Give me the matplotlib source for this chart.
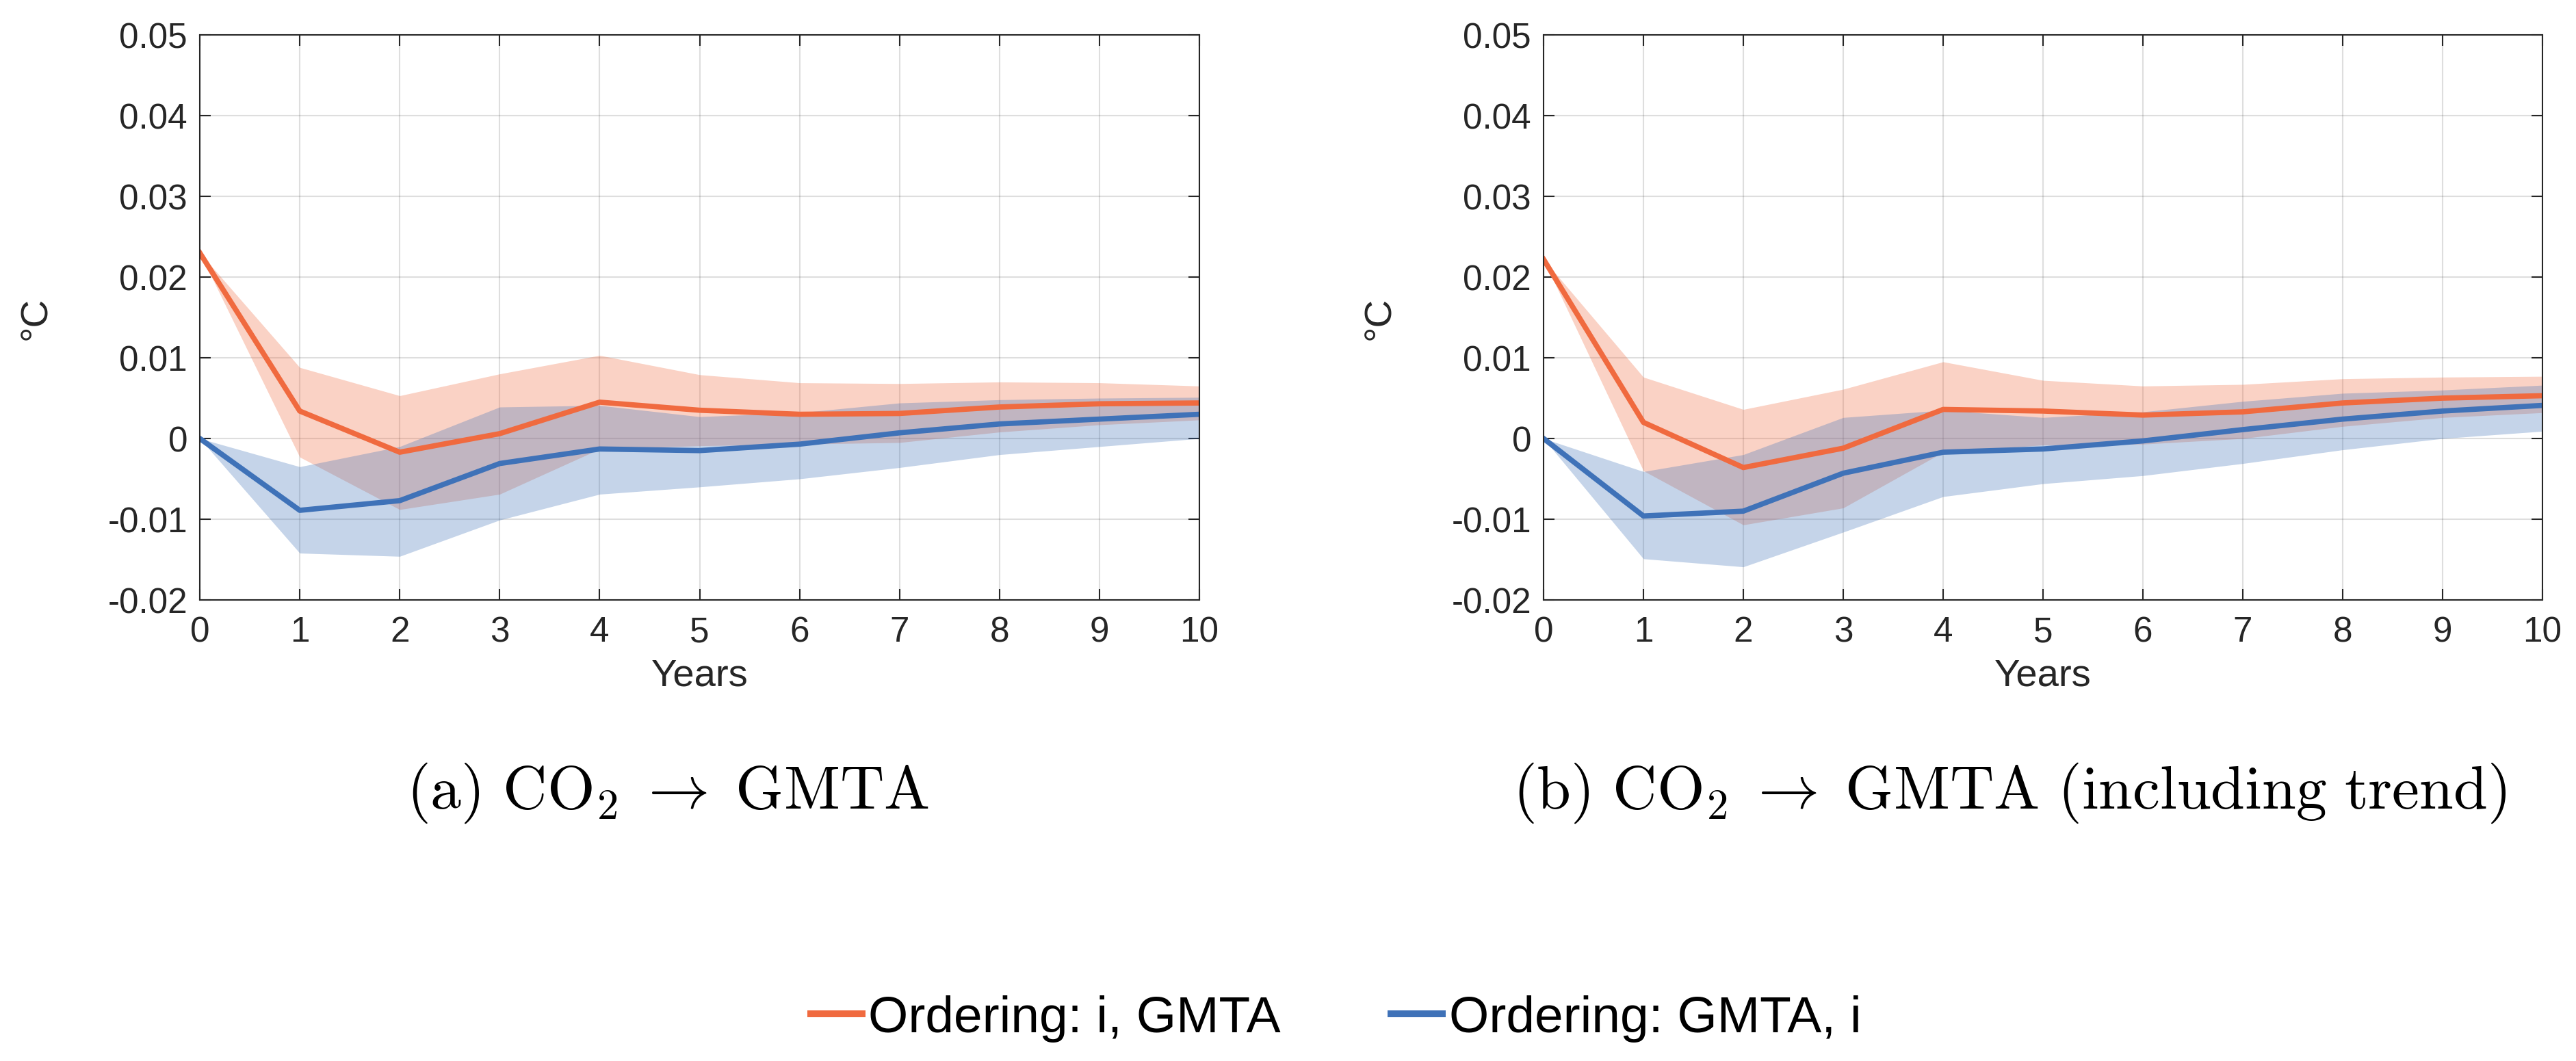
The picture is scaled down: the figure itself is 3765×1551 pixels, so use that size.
import matplotlib
matplotlib.use('Agg')
import matplotlib.pyplot as plt
from matplotlib.lines import Line2D

plt.rcParams['font.family'] = ['Liberation Sans', 'DejaVu Sans']
plt.rcParams['mathtext.fontset'] = 'cm'

#################################################################
## data (impulse responses, deg C)
years = [0, 1, 2, 3, 4, 5, 6, 7, 8, 9, 10]

# (a) CO2 -> GMTA
a_igmta_mid = [0.0230, 0.0034, -0.0017, 0.0006, 0.0045, 0.0035, 0.0030, 0.0031, 0.0039, 0.0043, 0.0044]
a_igmta_hi  = [0.0230, 0.0088, 0.0053, 0.0080, 0.0103, 0.0079, 0.0069, 0.0068, 0.0070, 0.0069, 0.0065]
a_igmta_lo  = [0.0230, -0.0023, -0.0088, -0.0069, -0.0013, -0.0009, -0.0007, -0.0005, 0.0008, 0.0017, 0.0023]
a_gmtai_mid = [0.0, -0.0089, -0.0077, -0.0031, -0.0013, -0.0015, -0.0007, 0.0007, 0.0018, 0.0024, 0.0030]
a_gmtai_hi  = [0.0, -0.0035, -0.0010, 0.0039, 0.0041, 0.0027, 0.0032, 0.0044, 0.0048, 0.0050, 0.0051]
a_gmtai_lo  = [0.0, -0.0142, -0.0146, -0.0101, -0.0069, -0.0060, -0.0050, -0.0036, -0.0020, -0.0010, 0.0000]

# (b) CO2 -> GMTA (including trend)
b_igmta_mid = [0.0222, 0.0020, -0.0036, -0.0012, 0.0036, 0.0034, 0.0029, 0.0033, 0.0044, 0.0050, 0.0053]
b_igmta_hi  = [0.0222, 0.0076, 0.0036, 0.0061, 0.0095, 0.0072, 0.0065, 0.0067, 0.0074, 0.0076, 0.0077]
b_igmta_lo  = [0.0222, -0.0040, -0.0107, -0.0086, -0.0017, -0.0008, -0.0007, 0.0000, 0.0015, 0.0026, 0.0032]
b_gmtai_mid = [0.0, -0.0096, -0.0090, -0.0043, -0.0017, -0.0013, -0.0003, 0.0011, 0.0024, 0.0034, 0.0041]
b_gmtai_hi  = [0.0, -0.0041, -0.0020, 0.0026, 0.0035, 0.0026, 0.0033, 0.0046, 0.0056, 0.0060, 0.0066]
b_gmtai_lo  = [0.0, -0.0149, -0.0159, -0.0116, -0.0072, -0.0056, -0.0046, -0.0031, -0.0014, 0.0000, 0.0009]

y_ticks = [-0.02, -0.01, 0, 0.01, 0.02, 0.03, 0.04, 0.05]
y_tick_labels = ['-0.02', '-0.01', '0', '0.01', '0.02', '0.03', '0.04', '0.05']

captions = [r'$\mathrm{(a)\ CO_2}\;\rightarrow\;\mathrm{GMTA}$',
            r'$\mathrm{(b)\ CO_2}\;\rightarrow\;\mathrm{GMTA\ (including\ trend)}$']
legend_labels = ['Ordering: i, GMTA', 'Ordering: GMTA, i']

ORANGE = '#F06A3F'
BLUE = '#3F72B8'
DARK = (0.15, 0.15, 0.15)

fig = plt.figure(figsize=(3765 / 300, 1552 / 300), dpi=300)


##########################################################################################
def draw_panel(rect, igmta, gmtai):
  ax = fig.add_axes(rect)
  mid, hi, lo = igmta
  ax.fill_between(years, lo, hi, color=ORANGE, alpha=0.3, linewidth=0)
  ax.plot(years, mid, color=ORANGE, linewidth=1.85)
  mid, hi, lo = gmtai
  ax.fill_between(years, lo, hi, color=BLUE, alpha=0.3, linewidth=0)
  ax.plot(years, mid, color=BLUE, linewidth=1.85)

  ax.set_xlim(0, 10)
  ax.set_ylim(-0.02, 0.05)
  ax.set_xticks(years)
  ax.set_yticks(y_ticks)
  ax.set_yticklabels(y_tick_labels)
  ax.grid(True, color=DARK, alpha=0.15, linewidth=0.5)
  ax.set_axisbelow(True)
  for s in ax.spines.values():
    s.set_color(DARK)
    s.set_linewidth(0.5)
  ax.tick_params(direction='in', length=3.9, width=0.5, color=DARK,
                 top=True, right=True, labelsize=12.3, labelcolor=DARK)
  ax.tick_params(axis='x', pad=5.3)
  ax.tick_params(axis='y', pad=4.3)

  ax.set_xlabel('Years', fontsize=13.5, color=DARK)
  ax.set_ylabel('\u00b0C', fontsize=13.5, color=DARK)
  ax.xaxis.set_label_coords(0.5, -0.1017)
  ax.yaxis.set_label_coords(-0.1458, 0.5)
  return ax


draw_panel([0.07756, 0.43428, 0.38805, 0.53222],
           (a_igmta_mid, a_igmta_hi, a_igmta_lo),
           (a_gmtai_mid, a_gmtai_hi, a_gmtai_lo))
draw_panel([0.59920, 0.43428, 0.38778, 0.53222],
           (b_igmta_mid, b_igmta_hi, b_igmta_lo),
           (b_gmtai_mid, b_gmtai_hi, b_gmtai_lo))

fig.text(0.2592, 0.2384, captions[0], fontsize=21.5, ha='center', va='baseline')
fig.text(0.7802, 0.2384, captions[1], fontsize=21.5, ha='center', va='baseline')

handles = [Line2D([], [], color=ORANGE, linewidth=2.4),
           Line2D([], [], color=BLUE, linewidth=2.4)]
fig.legend(handles, legend_labels, loc='center', bbox_to_anchor=(0.5186, 0.040),
           ncol=2, frameon=False, fontsize=18, handlelength=1.0,
           handletextpad=0.13, columnspacing=2.15)

fig.savefig('out.png', dpi=300)
